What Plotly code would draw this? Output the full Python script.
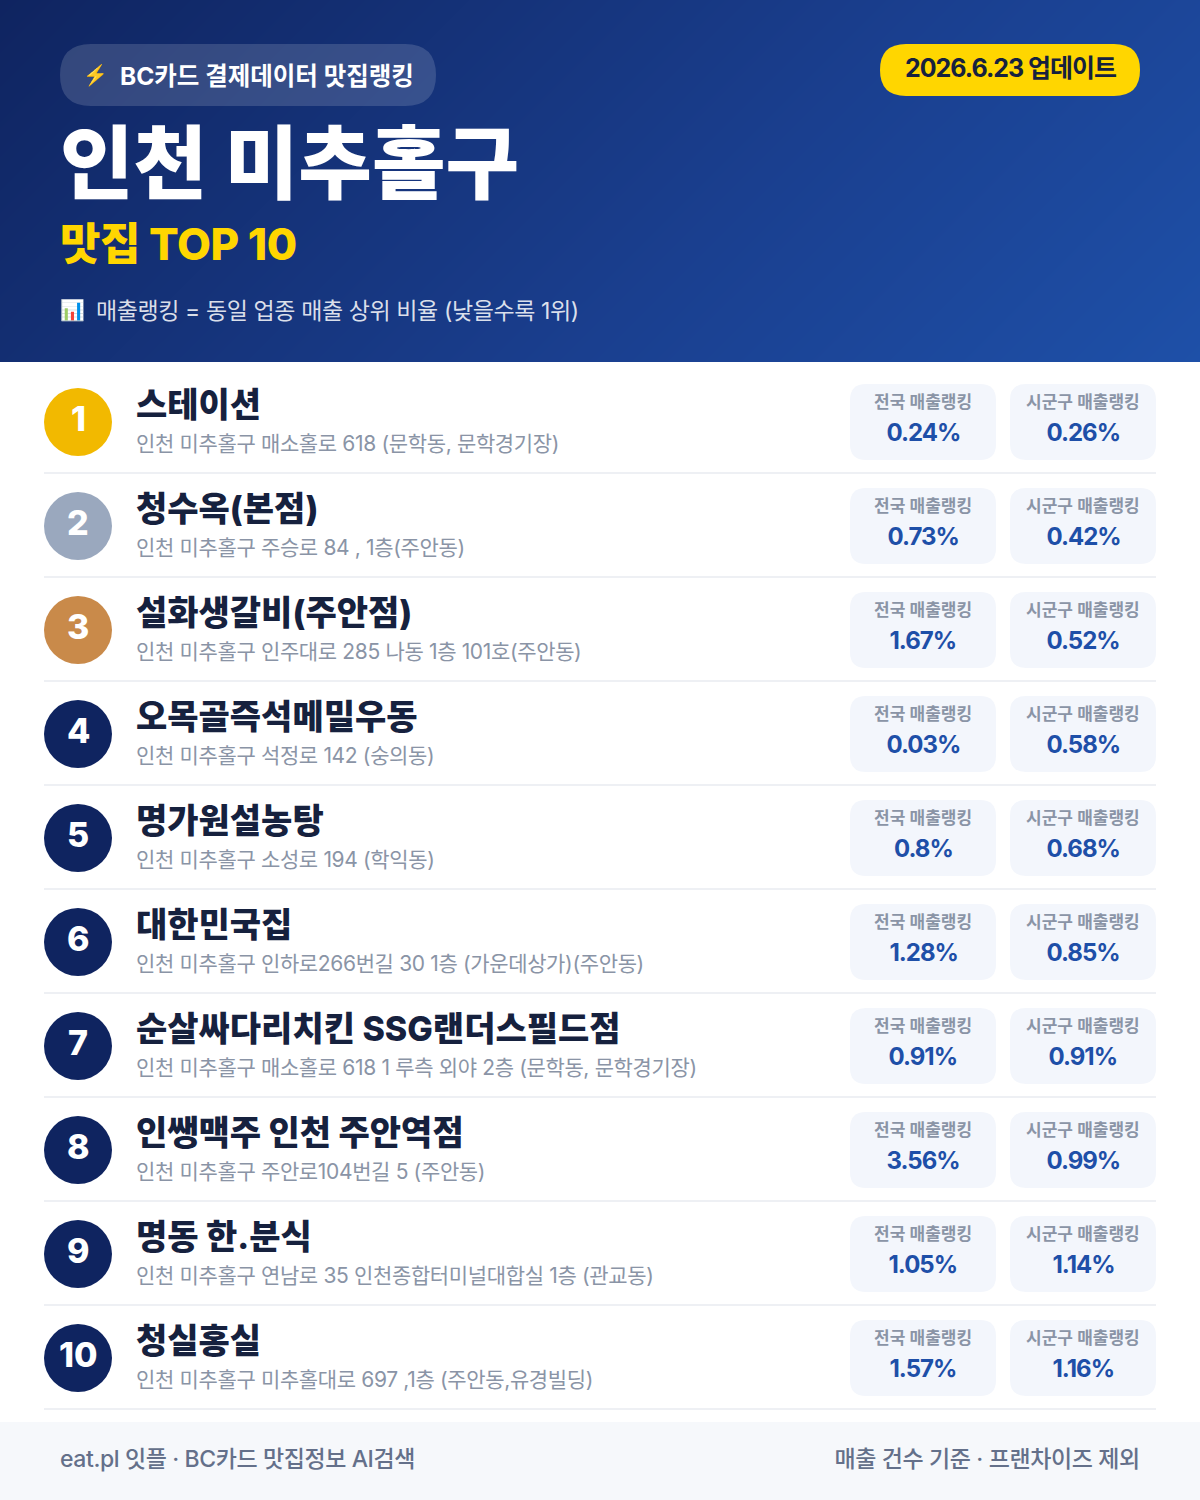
import plotly.graph_objects as go

names = ["스테이션", "청수옥(본점)", "설화생갈비(주안점)", "오목골즉석메밀우동", "명가원설농탕",
         "대한민국집", "순살싸다리치킨 SSG랜더스필드점", "인쌩맥주 인천 주안역점", "명동 한.분식", "청실홍실"]
addresses = ["인천 미추홀구 매소홀로 618 (문학동, 문학경기장)",
             "인천 미추홀구 주승로 84 , 1층(주안동)",
             "인천 미추홀구 인주대로 285 나동 1층 101호(주안동)",
             "인천 미추홀구 석정로 142 (숭의동)",
             "인천 미추홀구 소성로 194 (학익동)",
             "인천 미추홀구 인하로266번길 30 1층 (가운데상가)(주안동)",
             "인천 미추홀구 매소홀로 618 1 루측 외야 2층 (문학동, 문학경기장)",
             "인천 미추홀구 주안로104번길 5 (주안동)",
             "인천 미추홀구 연남로 35 인천종합터미널대합실 1층 (관교동)",
             "인천 미추홀구 미추홀대로 697 ,1층 (주안동,유경빌딩)"]
national_rank = ["0.24%", "0.73%", "1.67%", "0.03%", "0.8%", "1.28%", "0.91%", "3.56%", "1.05%", "1.57%"]
district_rank = ["0.26%", "0.42%", "0.52%", "0.58%", "0.68%", "0.85%", "0.91%", "0.99%", "1.14%", "1.16%"]

FONT = "Inter, Noto Sans CJK KR, Noto Color Emoji, sans-serif"
NAVY = "#0f2460"
INK = "#16213e"
BADGES = {0: "#f2b900", 1: "#9aa8be", 2: "#c98a4a"}

# letter-spacing by font size, plotly has no attribute for it
TIGHTEN = """
var sp = {'21': -0.35, '23': -0.4, '24': -1, '25': -1, '44': -0.5};
document.body.style.margin = '0';
document.querySelectorAll('.annotation-text').forEach(function (t) {
    var s = sp[String(parseFloat(t.style.fontSize))];
    if (s) t.style.letterSpacing = s + 'px';
});
"""


def text(s, x, y, size, color, weight=400, anchor="left"):
    fig.add_annotation(x=x, y=y, text=s, showarrow=False, xanchor=anchor, yanchor="middle", align=anchor,
                       font=dict(family=FONT, size=size, color=color, weight=weight))


def rrect(x0, y0, x1, y1, r, color):
    p = (f"M{x0+r},{y0} L{x1-r},{y0} Q{x1},{y0} {x1},{y0+r} L{x1},{y1-r} Q{x1},{y1} {x1-r},{y1} "
         f"L{x0+r},{y1} Q{x0},{y1} {x0},{y1-r} L{x0},{y0+r} Q{x0},{y0} {x0+r},{y0} Z")
    fig.add_shape(type="path", path=p, fillcolor=color, line_width=0, layer="above")


fig = go.Figure()

# header gradient, 135deg
fig.add_trace(go.Heatmap(x=[0, 1200], y=[0, 362], z=[[0, 0.768], [0.232, 1]], zsmooth="best",
                         zmin=0, zmax=1, showscale=False, hoverinfo="skip",
                         colorscale=[[0, NAVY], [0.6, "#1a3f8f"], [1, "#1e50a8"]]))

fig.add_shape(type="rect", x0=0, x1=1200, y0=362, y1=1500, fillcolor="white", line_width=0, layer="above")
fig.add_shape(type="rect", x0=0, x1=1200, y0=1422, y1=1500, fillcolor="#f6f8fb", line_width=0, layer="above")

# header
rrect(60, 44, 436, 106, 31, "rgba(255,255,255,0.15)")
rrect(880, 44, 1140, 96, 26, "#ffd600")
text("⚡", 81, 75, 20, "#ffd600")
text("BC카드 결제데이터 맛집랭킹", 118, 76, 24.5, "white", 700)
text("2026.6.23 업데이트", 1010, 68, 25, INK, 700, "center")
text("인천 미추홀구", 58, 162, 80, "white", 800)
text("맛집 TOP 10", 58, 244, 44, "#ffd600", 800)
text("📊", 58, 310, 20, "white")
text("매출랭킹 = 동일 업종 매출 상위 비율 (낮을수록 1위)", 94, 311, 23, "rgba(255,255,255,0.85)")

# rows
for i in range(len(names)):
    top = 362 + i * 104
    fig.add_shape(type="circle", x0=44, x1=112, y0=top + 26, y1=top + 94,
                  fillcolor=BADGES.get(i, NAVY), line_width=0, layer="above")
    text(str(i + 1), 78, top + 56, 34, "white", 800, "center")
    text(names[i], 134, top + 42, 34, INK, 800)
    text(addresses[i], 134, top + 81, 21, "#8a94a6")
    rrect(850, top + 22, 996, top + 98, 16, "#f3f6fc")
    rrect(1010, top + 22, 1156, top + 98, 16, "#f3f6fc")
    text("전국 매출랭킹", 923, top + 39.5, 17, "#8a94a6", 600, "center")
    text("시군구 매출랭킹", 1083, top + 39.5, 17, "#8a94a6", 600, "center")
    text(national_rank[i], 923, top + 70, 24, "#1e4fa8", 700, "center")
    text(district_rank[i], 1083, top + 70, 24, "#1e4fa8", 700, "center")
    fig.add_shape(type="rect", x0=44, x1=1156, y0=top + 110, y1=top + 112, fillcolor="#eef0f4",
                  line_width=0, layer="above")

# footer
text("eat.pl 잇플 · BC카드 맛집정보 AI검색", 58, 1459, 23, "#64708a", 500)
text("매출 건수 기준 · 프랜차이즈 제외", 1142, 1459, 23, "#64708a", 500, "right")

fig.update_xaxes(range=[0, 1200], visible=False, fixedrange=True)
fig.update_yaxes(range=[1500, 0], visible=False, fixedrange=True)
fig.update_layout(width=1200, height=1500, margin=dict(l=0, r=0, t=0, b=0),
                  paper_bgcolor="white", plot_bgcolor="white", showlegend=False)

fig.write_html("out.html", config={"displayModeBar": False}, post_script=TIGHTEN)
